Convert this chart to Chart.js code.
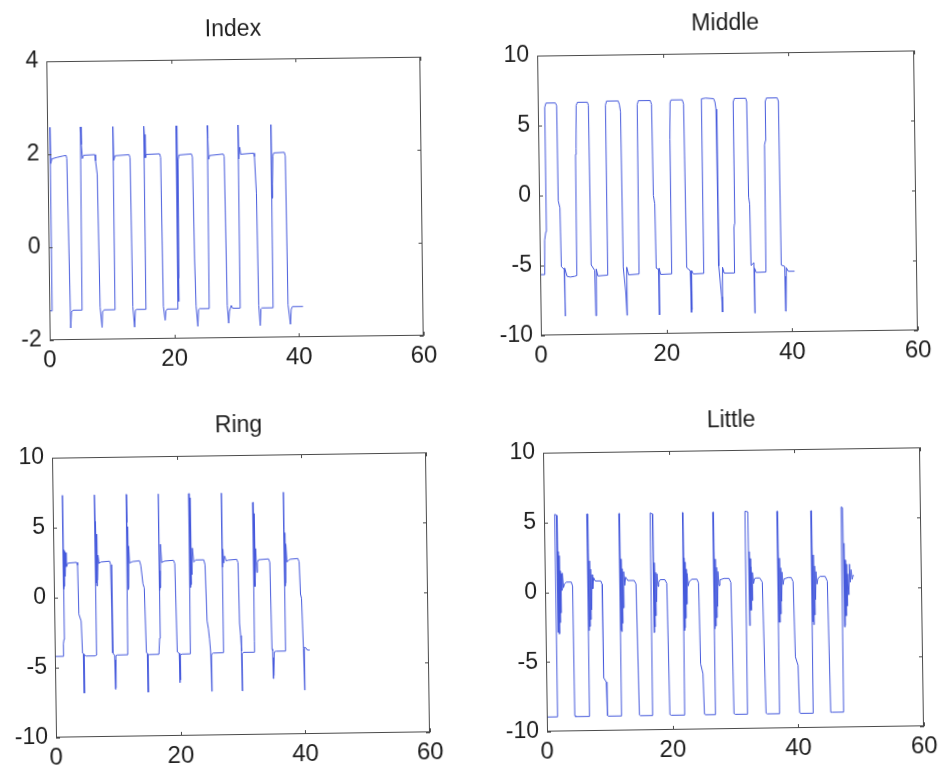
<!DOCTYPE html>
<html>
<head>
<meta charset="utf-8">
<script src="https://cdn.jsdelivr.net/npm/chart.js@4.4.0/dist/chart.umd.min.js"></script>
<style>
  html, body { margin: 0; padding: 0; background: #fff; width: 940px; height: 768px; overflow: hidden; }
  .panel { position: absolute; left: 0; top: 0; }
  canvas { display: block; }
</style>
</head>
<body>
<script>
// ---- time axis (seconds) and tick labels ----
const timeTicks = [0, 20, 40, 60];
const indexTicks = [-2, 0, 2, 4];
const fingerTicks = [-10, -5, 0, 5, 10];

// ---- Index finger trace ----
const indexTime = [
  0.00, 0.38, 0.45, 0.52, 0.70, 1.50, 2.50, 3.00, 3.10, 3.40, 3.55, 3.80,
  5.25, 5.33, 5.45, 5.60, 5.80, 7.60, 7.70, 7.95, 8.15, 8.43, 8.55, 8.80,
  10.45, 10.52, 10.56, 10.62, 10.85, 13.10, 13.25, 13.40, 13.65, 13.80, 14.00,
  15.45, 15.50, 15.58, 15.70, 15.85, 18.00, 18.15, 18.30, 18.56, 18.70, 18.90,
  20.62, 20.70, 20.76, 20.85, 20.95, 21.10, 23.10, 23.25, 23.40, 23.55, 23.80, 23.95, 24.10,
  25.65, 25.70, 25.76, 25.85, 26.00, 28.20, 28.35, 28.55, 28.75, 28.90, 29.20, 29.40,
  30.55, 30.62, 30.70, 30.85, 31.00, 33.05, 33.20, 33.45, 33.60, 33.80, 33.95, 34.10,
  35.85, 35.90, 35.95, 36.05, 36.15, 36.30, 38.00, 38.15, 38.30, 38.65, 38.80, 39.00, 40.70
];
const indexValue = [
  -1.36, -1.37, 2.58, 1.80, 1.90, 1.93, 1.96, 1.97, 1.90, -1.74, -1.40, -1.36,
  -1.36, 2.58, 2.20, 1.90, 1.97, 1.98, 1.85, 1.55, -1.30, -1.74, -1.40, -1.36,
  -1.36, 0.78, 2.58, 1.85, 1.95, 1.97, 1.90, -1.30, -1.74, -1.38, -1.36,
  -1.36, 2.58, 2.40, 1.90, 1.97, 1.98, 1.90, -1.30, -1.60, -1.40, -1.36,
  -1.36, 2.58, -1.20, -0.70, 1.85, 1.95, 1.97, 1.90, -0.30, -1.30, -1.74, -1.38, -1.36,
  -1.36, 2.58, 2.30, 1.85, 1.93, 1.96, 1.90, -1.30, -1.68, -1.42, -1.30, -1.36,
  -1.36, 2.58, 1.85, 2.10, 1.95, 1.97, 1.90, 1.10, -1.30, -1.74, -1.38, -1.36,
  -1.36, 2.58, 1.00, 1.30, 1.90, 1.97, 1.98, 1.90, -1.30, -1.72, -1.40, -1.34, -1.34
];

// ---- Middle finger trace ----
const middleTime = [
  0.00, 0.75, 0.80, 1.00, 1.10, 1.30, 2.80, 3.00, 3.05, 3.30, 3.40, 3.85, 3.90, 3.95, 4.30, 4.80, 5.50, 5.85,
  5.90, 6.00, 6.10, 6.30, 7.90, 8.05, 8.15, 8.70, 8.80, 8.90, 8.95, 9.20, 10.70,
  10.77, 10.95, 12.80, 13.00, 13.15, 13.25, 13.60, 13.75, 13.80, 14.10, 15.75,
  15.82, 16.00, 17.90, 18.10, 18.20, 18.40, 18.50, 18.85, 18.90, 18.95, 19.20, 20.85,
  20.90, 21.00, 21.05, 21.20, 23.00, 23.20, 23.35, 23.90, 24.00, 24.05, 24.10, 24.15, 24.40, 25.95,
  26.00, 26.10, 26.70, 28.00, 28.20, 28.35, 28.45, 28.85, 28.95, 29.05, 29.30, 30.90,
  30.95, 31.05, 31.10, 31.30, 33.10, 33.25, 33.35, 33.50, 33.60, 34.05, 34.10, 34.15, 34.40, 35.95,
  36.00, 36.15, 36.20, 36.40, 38.10, 38.30, 38.40, 38.95, 39.00, 39.05, 39.10, 39.20, 39.50, 40.50
];
const middleValue = [
  -5.65, -5.65, -3.20, -2.60, 6.30, 6.60, 6.60, 6.40, -0.40, -0.90, -5.10, -5.30, -8.64, -5.20, -5.80, -5.85, -5.80, -5.75,
  2.90, 3.30, 6.40, 6.62, 6.62, 6.40, -5.00, -5.40, -8.64, -8.50, -5.30, -5.80, -5.75,
  6.40, 6.68, 6.68, 6.40, 5.90, -5.20, -7.00, -8.64, -5.20, -5.75, -5.70,
  6.40, 6.68, 6.68, 6.40, -0.10, -0.70, -5.30, -5.40, -8.64, -5.30, -5.75, -5.72,
  3.50, 3.90, 6.50, 6.70, 6.70, 6.40, -5.30, -5.50, -8.50, -7.00, -8.30, -5.50, -5.75, -5.72,
  6.50, 6.75, 6.80, 6.75, 6.50, 6.00, -5.20, -7.40, -8.50, -5.30, -5.72, -5.72,
  -2.50, -2.20, 6.50, 6.75, 6.75, 6.50, -0.30, -0.80, -5.20, -5.00, -8.60, -5.40, -5.70, -5.68,
  3.40, 3.70, 6.50, 6.75, 6.75, 6.50, -5.20, -5.30, -8.50, -6.00, -8.30, -5.40, -5.65, -5.65
];

// ---- Ring finger trace ----
const ringTime = [
  0.00, 1.30, 1.40, 1.50, 1.55, 1.60, 1.65, 1.70, 1.78, 1.85, 1.95, 2.05, 2.30, 3.70, 3.85, 3.95, 4.30, 4.45, 4.60, 4.65, 4.70, 5.00, 6.50,
  6.60, 6.70, 6.75, 6.80, 6.85, 6.90, 6.95, 7.05, 7.15, 7.30, 7.60, 9.00, 9.15, 9.30, 9.60, 9.65, 9.70, 9.75, 9.80, 10.00, 11.70,
  11.80, 11.85, 11.90, 11.95, 12.00, 12.10, 12.20, 12.70, 13.80, 14.00, 14.30, 14.50, 14.70, 14.85, 14.90, 14.95, 15.20, 16.70,
  16.85, 16.90, 16.95, 17.00, 17.05, 17.10, 17.20, 17.35, 17.80, 19.25, 19.45, 19.65, 19.95, 20.00, 20.05, 20.10, 20.15, 20.40, 21.75,
  21.85, 21.90, 21.95, 22.00, 22.05, 22.10, 22.20, 22.30, 22.50, 22.80, 24.10, 24.30, 24.50, 24.70, 24.85, 25.00, 25.10, 25.15, 25.40, 27.00,
  27.05, 27.10, 27.20, 27.30, 27.45, 27.70, 28.00, 29.40, 29.60, 29.70, 29.85, 29.95, 30.00, 30.05, 30.30, 32.00,
  32.05, 32.10, 32.15, 32.20, 32.25, 32.30, 32.35, 32.45, 32.60, 32.70, 32.90, 34.50, 34.70, 34.85, 34.95, 35.00, 35.05, 35.10, 35.20, 35.50, 36.90,
  37.00, 37.05, 37.10, 37.15, 37.20, 37.30, 37.45, 37.90, 39.20, 39.40, 39.55, 39.70, 39.90, 40.00, 40.05, 40.30, 40.50, 40.90
];
const ringValue = [
  -4.20, -4.20, -3.30, -3.00, 7.30, 0.60, 3.40, 0.80, 3.30, 1.50, 3.20, 2.20, 2.45, 2.50, 2.30, -1.20, -1.70, -4.00, -4.05, -6.85, -4.10, -4.20, -4.20,
  -4.15, 7.30, 5.40, 1.00, 5.20, 0.80, 4.50, 1.20, 3.00, 2.40, 2.50, 2.55, 2.30, -4.00, -4.20, -6.60, -4.50, -6.50, -4.20, -4.16, -4.15,
  7.30, 5.30, 0.50, 5.00, 0.60, 3.60, 2.40, 2.50, 2.55, 2.20, 0.90, 0.60, -4.00, -4.10, -6.85, -4.20, -4.16, -4.15,
  -3.00, 7.30, 1.90, 0.40, 1.80, 0.60, 3.70, 2.40, 2.50, 2.55, 2.30, -4.00, -4.10, -6.20, -4.50, -6.00, -4.20, -4.16, -4.15,
  7.30, 7.20, 0.60, 7.00, 0.80, 3.60, 1.50, 3.40, 2.40, 2.55, 2.55, 2.20, -1.80, -2.40, -3.10, -4.00, -6.85, -4.20, -4.12, -4.10,
  7.30, 2.00, 3.30, 2.30, 2.80, 2.45, 2.50, 2.55, 2.30, -2.00, -2.90, -4.00, -6.85, -4.20, -4.10, -4.10,
  -3.30, 6.60, 0.60, 6.40, 0.60, 5.80, 1.00, 3.30, 1.60, 2.30, 2.50, 2.55, 2.30, -3.90, -4.00, -6.00, -4.50, -5.80, -4.10, -4.05, -4.05,
  7.30, 4.60, 0.60, 4.40, 0.80, 3.60, 2.30, 2.50, 2.55, 2.30, 0.00, -0.30, -3.90, -6.85, -3.80, -3.85, -4.00, -4.00
];

// ---- Little finger trace ----
const littleTime = [
  0.00, 1.68, 1.72, 2.02, 2.06, 2.12, 2.20, 2.27, 2.35, 2.42, 2.50, 2.58, 2.68, 2.80, 2.95, 3.10, 3.40, 4.20, 4.40, 4.46, 4.60, 6.80,
  6.85, 6.92, 7.00, 7.07, 7.15, 7.22, 7.30, 7.40, 7.50, 7.60, 7.75, 8.00, 8.90, 9.10, 9.15, 9.55, 9.65, 9.80, 11.90,
  11.95, 12.00, 12.06, 12.12, 12.20, 12.28, 12.35, 12.45, 12.55, 12.70, 12.85, 13.20, 14.20, 14.50, 14.75, 14.90, 16.85,
  16.90, 17.25, 17.30, 17.36, 17.42, 17.50, 17.58, 17.65, 17.75, 17.85, 18.00, 18.10, 18.35, 19.10, 19.40, 19.60, 19.80, 21.95,
  22.05, 22.10, 22.16, 22.22, 22.30, 22.38, 22.45, 22.55, 22.65, 22.80, 22.95, 23.40, 24.20, 24.45, 24.60, 24.95, 25.10, 25.30, 26.85,
  26.90, 26.95, 27.02, 27.10, 27.18, 27.26, 27.35, 27.45, 27.55, 27.70, 27.85, 28.50, 29.30, 29.60, 29.80, 30.00, 31.95,
  32.00, 32.45, 32.50, 32.56, 32.62, 32.70, 32.78, 32.86, 32.95, 33.05, 33.20, 33.35, 33.60, 34.20, 34.60, 34.90, 35.10, 37.05,
  37.10, 37.15, 37.22, 37.30, 37.38, 37.46, 37.55, 37.65, 37.75, 37.90, 38.05, 38.70, 39.20, 39.50, 39.70, 40.10, 40.25, 40.40, 42.40,
  42.50, 42.55, 42.62, 42.70, 42.78, 42.86, 42.95, 43.05, 43.15, 43.30, 43.45, 43.80, 44.60, 44.95, 45.20, 45.40, 47.25,
  47.30, 47.55, 47.60, 47.66, 47.72, 47.80, 47.88, 47.95, 48.05, 48.20, 48.35, 48.50, 48.60, 48.75, 48.90, 49.05, 49.20
];
const littleValue = [
  -8.95, -8.95, 5.57, 5.50, -2.90, 2.90, -3.00, 2.60, -2.20, 1.50, -1.50, 1.30, 0.10, 1.35, 0.30, 0.55, 0.70, 0.70, 0.40, -8.90, -8.95, -8.95,
  5.57, -2.80, 2.80, -2.50, 2.20, -2.00, 1.60, -1.30, 1.20, 0.20, 1.00, 0.75, 0.75, 0.50, -6.20, -6.50, -8.90, -8.95, -8.95,
  5.57, -2.80, 2.80, -2.90, 2.30, -2.30, 1.60, -1.20, 1.40, 0.40, 1.00, 0.75, 0.75, 0.50, -8.90, -8.95, -8.95,
  5.57, 5.50, -3.00, 1.50, -2.60, 2.00, -1.80, 1.30, -0.80, 1.20, 0.30, 0.60, 0.78, 0.78, 0.50, -8.90, -8.95, -8.95,
  5.57, -2.90, 2.30, -2.70, 2.00, -2.00, 1.50, -1.00, 1.20, 0.30, 0.60, 0.78, 0.78, 0.50, -5.30, -6.00, -8.90, -8.95, -8.95,
  5.57, -2.80, 2.80, -2.60, 2.20, -2.00, 1.60, -1.20, 1.30, 0.30, 0.70, 0.80, 0.80, 0.50, -8.90, -8.95, -8.95,
  5.60, 5.55, -2.60, 2.70, -1.50, 2.20, -1.50, 1.60, -0.80, 1.20, 0.40, 0.75, 0.80, 0.80, 0.50, -8.90, -8.95, -8.95,
  5.57, -2.40, 2.90, -2.40, 2.20, -1.80, 1.50, -0.90, 1.20, 0.30, 0.70, 0.80, 0.80, 0.50, -4.90, -5.50, -8.90, -8.95, -8.95,
  5.57, -2.40, 3.05, -2.60, 2.40, -1.90, 1.60, -0.80, 1.20, 0.30, 0.70, 0.85, 0.85, 0.50, -8.90, -8.90, -8.90,
  5.80, 5.75, -2.80, 3.20, -2.70, 2.00, -2.00, 1.70, -1.30, 1.00, -0.50, 1.70, 0.40, 1.30, 0.60, 0.90, 0.85
];

// ---- panel layout (page pixels of each plot box, plus a slight tilt) ----
const panels = [
  { title: 'Index',  time: indexTime,  value: indexValue,  yTicks: indexTicks,  box: { left: 48,  top: 59,  w: 374, h: 279 }, tilt: -0.70 },
  { title: 'Middle', time: middleTime, value: middleValue, yTicks: fingerTicks, box: { left: 539, top: 53,  w: 377, h: 280 }, tilt: -0.78 },
  { title: 'Ring',   time: ringTime,   value: ringValue,   yTicks: fingerTicks, box: { left: 54,  top: 455, w: 374, h: 280 }, tilt: -0.82 },
  { title: 'Little', time: littleTime, value: littleValue, yTicks: fingerTicks, box: { left: 545, top: 450, w: 377, h: 279 }, tilt: -0.82 }
];

const FONT = "'Liberation Sans', Arial, Helvetica, sans-serif";
const TEXT = '#1e1e1e';
const TRACE = 'rgb(70, 90, 220)';
const Y_AXIS_W = 56;
const X_AXIS_H = 46;
const PAD_RIGHT = 50;
const TITLE_H = 50;

// closed frame with short inward tick marks on all four sides
const framePlugin = {
  id: 'frameTicks',
  afterDraw(chart) {
    const { ctx, chartArea: a, scales } = chart;
    const L = 4;
    ctx.save();
    ctx.strokeStyle = '#4a4a4a';
    ctx.lineWidth = 1;
    ctx.strokeRect(Math.round(a.left) + 0.5, Math.round(a.top) + 0.5,
                   Math.round(a.right - a.left) - 1, Math.round(a.bottom - a.top) - 1);
    ctx.beginPath();
    scales.x.ticks.forEach(t => {
      const px = Math.round(scales.x.getPixelForValue(t.value)) + 0.5;
      ctx.moveTo(px, a.bottom); ctx.lineTo(px, a.bottom - L);
      ctx.moveTo(px, a.top);    ctx.lineTo(px, a.top + L);
    });
    scales.y.ticks.forEach(t => {
      const py = Math.round(scales.y.getPixelForValue(t.value)) + 0.5;
      ctx.moveTo(a.left, py);  ctx.lineTo(a.left + L, py);
      ctx.moveTo(a.right, py); ctx.lineTo(a.right - L, py);
    });
    ctx.stroke();
    ctx.restore();
  }
};

function makePanel(p) {
  const wrap = document.createElement('div');
  wrap.className = 'panel';
  const canvas = document.createElement('canvas');
  const W = p.box.w + Y_AXIS_W + PAD_RIGHT;
  const H = p.box.h + TITLE_H + X_AXIS_H;
  canvas.width = W; canvas.height = H;
  canvas.style.width = W + 'px'; canvas.style.height = H + 'px';
  wrap.appendChild(canvas);
  document.body.appendChild(wrap);

  const yMin = p.yTicks[0], yMax = p.yTicks[p.yTicks.length - 1];
  const chart = new Chart(canvas, {
    type: 'scatter',
    data: {
      datasets: [{
        data: p.time.map((t, i) => ({ x: t, y: p.value[i] })),
        showLine: true,
        borderColor: TRACE,
        borderWidth: 1,
        pointRadius: 0,
        tension: 0
      }]
    },
    options: {
      responsive: false,
      maintainAspectRatio: false,
      animation: false,
      devicePixelRatio: 1,
      events: [],
      layout: { padding: { left: 0, right: PAD_RIGHT, top: 0, bottom: 0 } },
      plugins: {
        legend: { display: false },
        tooltip: { enabled: false },
        title: {
          display: true,
          fullSize: false,
          text: p.title,
          color: TEXT,
          font: { family: FONT, size: 23, weight: 'normal', lineHeight: 1.2 },
          padding: { top: 6.4, bottom: 16 }
        }
      },
      scales: {
        x: {
          type: 'linear',
          min: timeTicks[0],
          max: timeTicks[timeTicks.length - 1],
          afterBuildTicks: s => { s.ticks = timeTicks.map(v => ({ value: v })); },
          afterFit: s => { s.height = X_AXIS_H; },
          grid: { display: false, drawTicks: false },
          border: { display: false },
          ticks: { color: TEXT, font: { family: FONT, size: 24 }, padding: 6, maxRotation: 0 }
        },
        y: {
          type: 'linear',
          min: yMin,
          max: yMax,
          afterBuildTicks: s => { s.ticks = p.yTicks.map(v => ({ value: v })); },
          afterFit: s => { s.width = Y_AXIS_W; },
          grid: { display: false, drawTicks: false },
          border: { display: false },
          ticks: { color: TEXT, font: { family: FONT, size: 23 }, padding: 8 }
        }
      }
    },
    plugins: [framePlugin]
  });

  // make the plot box exactly the requested size
  let a = chart.chartArea;
  const dw = p.box.w - Math.round(a.right - a.left);
  const dh = p.box.h - Math.round(a.bottom - a.top);
  if (dw !== 0 || dh !== 0) {
    chart.resize(W + dw, H + dh);
    a = chart.chartArea;
  }
  // place the plot box on the page and tilt it around its own centre
  wrap.style.left = (p.box.left - a.left) + 'px';
  wrap.style.top = (p.box.top - a.top) + 'px';
  wrap.style.transformOrigin = (a.left + p.box.w / 2) + 'px ' + (a.top + p.box.h / 2) + 'px';
  wrap.style.transform = 'rotate(' + p.tilt + 'deg)';
}

panels.forEach(makePanel);
</script>
</body>
</html>
